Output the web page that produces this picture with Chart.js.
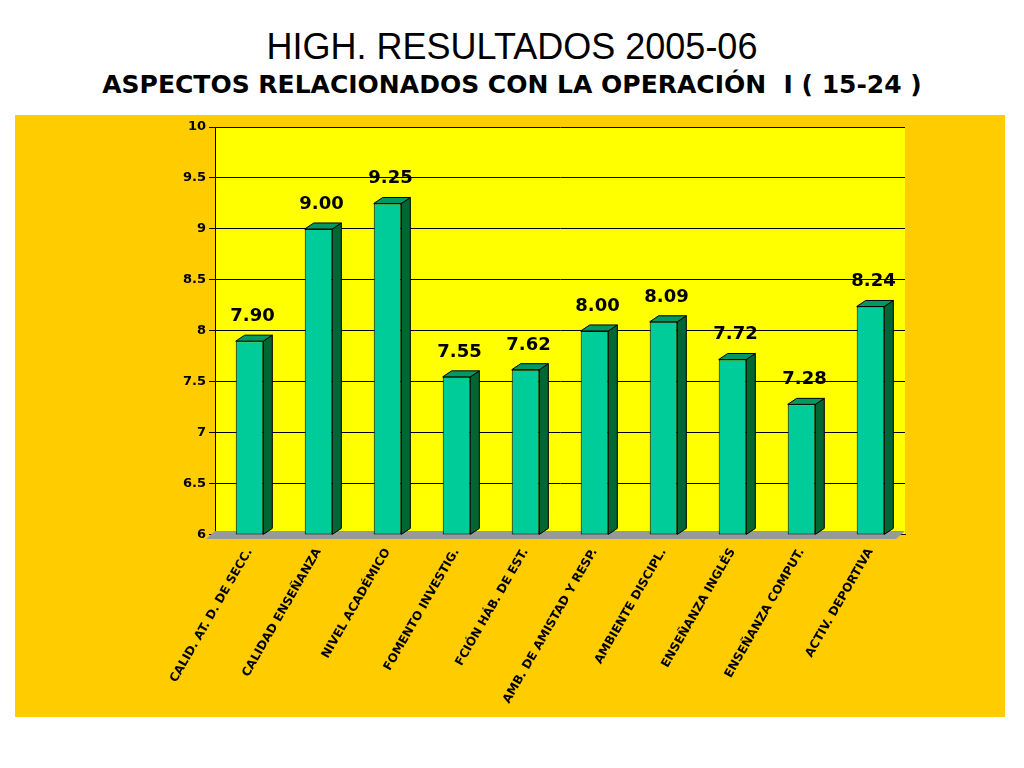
<!DOCTYPE html>
<html><head><meta charset="utf-8">
<script src="https://cdn.jsdelivr.net/npm/chart.js@4"></script>
<style>
body{margin:0;background:#fff;width:1024px;height:768px;position:relative;font-family:"DejaVu Sans",Verdana,sans-serif}
#t1{position:absolute;top:26px;width:1024px;text-align:center;font-family:"Liberation Sans",Arial;font-size:36px}
#t2{position:absolute;top:70px;width:1024px;text-align:center;font-family:"DejaVu Sans";font-weight:bold;font-size:25px}
#box{position:absolute;left:15px;top:115px;width:990px;height:602px;background:#FFCC00}
</style></head><body>
<div id="t1">HIGH. RESULTADOS 2005-06</div>
<div id="t2">ASPECTOS RELACIONADOS CON LA OPERACIÓN&nbsp; I ( 15-24 )</div>
<div id="box"><canvas id="c" width="990" height="602"></canvas></div>
<script>
const categories = ['CALID. AT. D. DE SECC.','CALIDAD ENSEÑANZA','NIVEL ACADÉMICO','FOMENTO INVESTIG.','FCIÓN HÁB. DE EST.','AMB. DE AMISTAD Y RESP.','AMBIENTE DISCIPL.','ENSEÑANZA INGLÉS','ENSEÑANZA COMPUT.','ACTIV. DEPORTIVA'];
const values = [7.90, 9.00, 9.25, 7.55, 7.62, 8.00, 8.09, 7.72, 7.28, 8.24];

const D = 9;
const depth = {
  id: 'depth',
  beforeDatasetsDraw(ch) {
    const a = ch.chartArea, x = ch.ctx;
    x.save();
    x.fillStyle = '#999999';
    x.beginPath();
    x.moveTo(a.left - D, a.bottom + 4); x.lineTo(a.right - D, a.bottom + 4);
    x.lineTo(a.right, a.bottom - 4); x.lineTo(a.left, a.bottom - 4); x.fill();
    x.restore();
  },
  afterDatasetsDraw(ch) {
    const x = ch.ctx;
    x.save();
    x.lineWidth = 1; x.strokeStyle = '#000';
    ch.getDatasetMeta(0).data.forEach((b, i) => {
      const l = b.x - b.width / 2, r = b.x + b.width / 2;
      x.fillStyle = '#006633';
      x.beginPath(); x.moveTo(r, b.y); x.lineTo(r + D, b.y - 6); x.lineTo(r + D, b.base - 6); x.lineTo(r, b.base); x.closePath(); x.fill(); x.stroke();
      x.fillStyle = '#009966';
      x.beginPath(); x.moveTo(l, b.y); x.lineTo(l + D, b.y - 6); x.lineTo(r + D, b.y - 6); x.lineTo(r, b.y); x.closePath(); x.fill(); x.stroke();
      x.fillStyle = '#000'; x.font = 'bold 18px "DejaVu Sans"'; x.textAlign = 'center';
      x.fillText(values[i].toFixed(2), b.x + 3, b.y - 20);
    });
    x.restore();
  }
};

new Chart(document.getElementById('c'), {
  type: 'bar',
  data: { labels: categories, datasets: [{ data: values, backgroundColor: '#00CC99', borderColor: '#000', borderWidth: 1, categoryPercentage: 0.8, barPercentage: 0.5, borderSkipped: false, base: 6 }] },
  options: {
    responsive: false, animation: false,
    layout: { padding: { left: 165, right: 100, top: 12, bottom: 8 } },
    plugins: { legend: { display: false }, tooltip: { enabled: false } },
    scales: {
      y: { min: 6, max: 10, ticks: { stepSize: 0.5, color: '#000', callback: v => String(v), font: { family: 'DejaVu Sans', weight: 'bold', size: 13 } },
           grid: { color: '#000', tickLength: 6 }, border: { color: '#000' } },
      x: { ticks: { color: '#000', minRotation: 60, maxRotation: 60, font: { family: 'DejaVu Sans', weight: 'bold', size: 12 } },
           grid: { display: false }, border: { color: '#000' } }
    }
  },
  plugins: [depth, {
    id: 'bg', beforeDraw(ch) { const a = ch.chartArea; ch.ctx.fillStyle = '#FFFF00'; ch.ctx.fillRect(a.left, a.top, a.right - a.left, a.bottom - a.top); }
  }]
});
</script></body></html>
